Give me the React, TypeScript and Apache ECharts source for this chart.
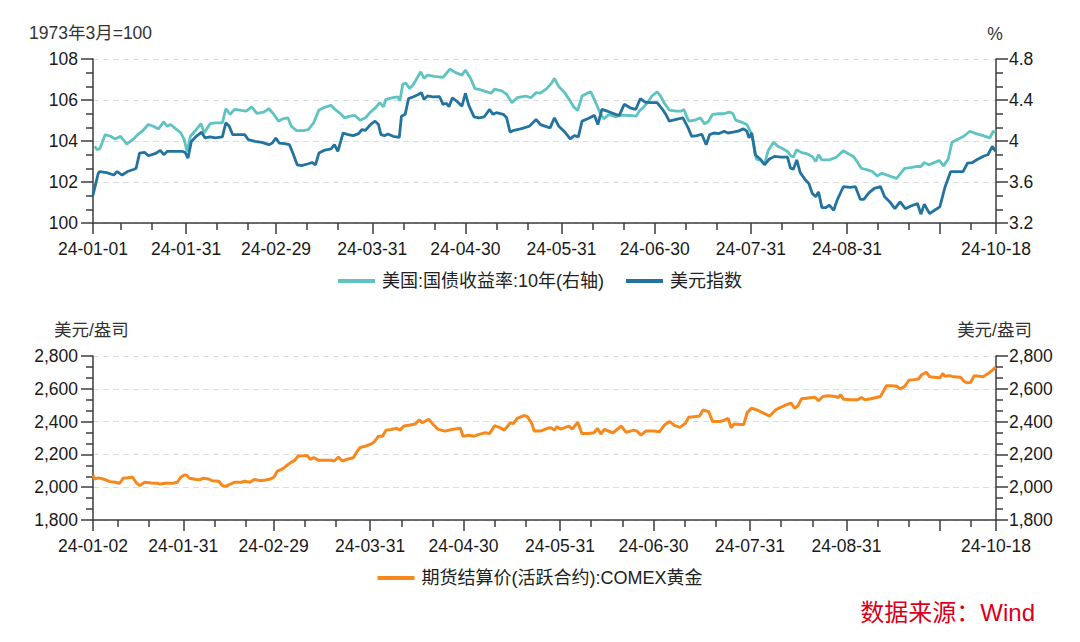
import { useEffect, useRef } from "react";
import * as echarts from "echarts";

const FONT = '"Liberation Sans", "Noto Sans CJK SC", sans-serif';

// x values are day offsets from 2024-01-01
const topLabelDays = [0, 30, 59, 90, 120, 151, 181, 212, 243, 291];
const bottomLabelDays = [1, 30, 59, 90, 120, 151, 181, 212, 243, 291];
const topMajorTickDays = [0, 30, 59, 90, 120, 151, 181, 212, 243, 273, 291];
const bottomMajorTickDays = [1, 30, 59, 90, 120, 151, 181, 212, 243, 273, 291];
const minorTickDays = [9, 19, 40, 50, 69, 79, 100, 110, 130, 140, 161, 171, 191, 201, 222, 232, 253, 263, 283];

const yieldName = "美国:国债收益率:10年(右轴)";
const dxyName = "美元指数";
const goldName = "期货结算价(活跃合约):COMEX黄金";

const dxyData = [
  [0, 101.36], [1.7, 102.43], [2.2, 102.51], [4.4, 102.46], [6.7, 102.34], [7.8, 102.51], [9.4, 102.34], [11.1, 102.51], [13.3, 102.62], [13.9, 102.67],
  [15, 103.41], [16.7, 103.44], [17.8, 103.28], [20, 103.38], [21.7, 103.54], [22.8, 103.33], [23.9, 103.49], [25.6, 103.49], [28.9, 103.49], [29.7, 103.44],
  [30.6, 103.16], [31.7, 103.98], [33.3, 104.23], [35, 104.43], [36.1, 104.15], [37.8, 104.2], [39.4, 104.15], [41.7, 104.2], [42.8, 104.89], [43.9, 104.72],
  [45, 104.31], [47.2, 104.31], [48.9, 104.31], [50, 104.07], [52.2, 103.98], [54.4, 103.93], [56.7, 103.82], [57.8, 103.9], [58.9, 104.15], [60, 103.9],
  [61.7, 103.87], [63.3, 103.82], [64.4, 103.41], [65.8, 102.84], [67.2, 102.8], [69.4, 102.89], [70.6, 102.95], [71.7, 102.84], [72.8, 103.41], [74.4, 103.54],
  [76.7, 103.61], [77.8, 103.82], [78.9, 103.49], [80.6, 104.39], [82.2, 104.31], [83.9, 104.26], [85.6, 104.36], [86.7, 104.56], [87.8, 104.52], [89.4, 104.8],
  [90.9, 104.97], [92, 104.8], [92.8, 104.31], [93.9, 104.26], [95, 104.34], [96.7, 104.23], [98.7, 104.18], [99.4, 105.21], [100.6, 105.3], [101.7, 106.07],
  [103.3, 106.16], [105, 106.28], [105.8, 106.36], [106.7, 106.03], [107.8, 106.2], [109.4, 106.15], [111.7, 106.16], [112.8, 105.79], [113.9, 105.84], [114.7, 105.67],
  [115.8, 106.1], [117.2, 105.95], [118.9, 105.7], [120, 106.33], [121.1, 105.74], [122.8, 105.18], [124.4, 105.13], [126.1, 105.18], [127.8, 105.54], [128.9, 105.3],
  [130, 105.38], [132.2, 105.3], [133.3, 105.13], [134.4, 104.43], [135.6, 104.52], [137.8, 104.59], [140.6, 104.72], [142.8, 105.05], [144.2, 104.8],
  [147.3, 104.64], [148.7, 105.13], [150.1, 104.72], [151.8, 104.48], [153.8, 104.1], [155.1, 104.26], [156.4, 104.2], [157.6, 104.97], [159.6, 105.1], [161.6, 105.25],
  [162.7, 104.8], [164, 105.54], [166.2, 105.43], [168.4, 105.3], [169.6, 105.25], [171.2, 105.79], [173.1, 105.62], [174.9, 105.54], [176.4, 106.07], [177.9, 105.9],
  [179.6, 105.87], [181.8, 105.87], [183.4, 105.57], [184.6, 105.3], [185.7, 104.97], [187.9, 105.05], [190.1, 105.13], [191.8, 104.64], [192.9, 104.23], [194.6, 104.26],
  [196.2, 104.33], [197.6, 103.82], [198.7, 104.31], [200.1, 104.39], [201.8, 104.36], [203.4, 104.48], [204.6, 104.39], [206.2, 104.43], [207.9, 104.48], [209.6, 104.59],
  [210.7, 104.48], [211.4, 104.15], [212.3, 104.39], [213.4, 103.33], [215.1, 103.11], [216.4, 102.84], [217.9, 103.11], [219.6, 103.25], [221.8, 103.21], [223.8, 103.21],
  [224.8, 102.67], [225.7, 102.62], [226.8, 103.08], [227.9, 102.46], [229.6, 102.1], [230.7, 101.93], [231.8, 101.44], [232.9, 101.28], [233.8, 101.52], [234.9, 100.75],
  [236.2, 100.75], [237.3, 100.87], [238.7, 100.62], [239.8, 101.11], [241.8, 101.77], [244, 101.74], [245.7, 101.77], [247.3, 101.15], [248.4, 101.15], [250.1, 101.48],
  [251.8, 101.69], [253.8, 101.77], [255.1, 101.28], [256.8, 101.03], [258.4, 100.7], [260.1, 101.03], [261.8, 100.7], [263.4, 100.82], [265.7, 100.95], [266.8, 100.43],
  [267.9, 100.92], [269.6, 100.46], [271.2, 100.62], [272.9, 100.79], [274.6, 101.77], [276.4, 102.51], [278.4, 102.51], [280.4, 102.51], [281.8, 102.92], [283.4, 102.95],
  [285.1, 103.11], [287.3, 103.28], [288.4, 103.33], [289.8, 103.74], [290.9, 103.49],
];

const yieldData = [
  [0.6, 3.948], [1.3, 3.915], [2.2, 3.925], [3.9, 4.062], [5.6, 4.046], [7.2, 4.02], [8.9, 4.046], [10.9, 3.97], [12.8, 4.013], [14.4, 4.062],
  [16.1, 4.102], [17.8, 4.161], [19.4, 4.144], [21.1, 4.118], [22.8, 4.187], [23.9, 4.144], [25, 4.161], [26.7, 4.118], [28.3, 4.079], [29.4, 4.013],
  [30.3, 3.898], [31.4, 4.046], [32.8, 4.095], [34.8, 4.17], [35.8, 4.079], [37.8, 4.17], [39.4, 4.177], [41.7, 4.177], [42.8, 4.315], [44.2, 4.259],
  [45.6, 4.308], [47.8, 4.298], [49.4, 4.292], [51.1, 4.334], [52.8, 4.269], [55, 4.282], [56.7, 4.315], [58.3, 4.259], [59.8, 4.193], [61.1, 4.216],
  [62.8, 4.226], [63.9, 4.144], [65.6, 4.102], [67.8, 4.102], [69.4, 4.111], [71.1, 4.177], [72.8, 4.302], [74.4, 4.325], [76.7, 4.348], [78, 4.308],
  [79.4, 4.275], [81.1, 4.226], [82.8, 4.243], [84.4, 4.249], [86.1, 4.203], [87.8, 4.226], [89.4, 4.282], [91.1, 4.325], [92.4, 4.374], [93.6, 4.334],
  [94.4, 4.407], [96.7, 4.423], [98.3, 4.43], [98.9, 4.39], [99.8, 4.554], [100.9, 4.564], [102, 4.511], [103.3, 4.554], [105.6, 4.675], [106.7, 4.61],
  [107.8, 4.643], [110, 4.63], [112.8, 4.62], [115, 4.702], [116.7, 4.669], [118.9, 4.643], [120, 4.692], [121.7, 4.61], [123.1, 4.511], [125, 4.498],
  [126.7, 4.482], [128.3, 4.466], [129.4, 4.505], [131.7, 4.489], [133.3, 4.456], [135, 4.374], [136.7, 4.423], [139.4, 4.439], [141.1, 4.423], [142.8, 4.472],
  [144.2, 4.466], [146.2, 4.511], [147.9, 4.57], [148.7, 4.61], [150.1, 4.531], [152, 4.472], [153.4, 4.407], [155.1, 4.325], [156.2, 4.298], [157.6, 4.439],
  [159, 4.462], [160.4, 4.479], [161.8, 4.39], [163.4, 4.275], [164.6, 4.216], [166.2, 4.259], [168.4, 4.236], [170.1, 4.252], [172.9, 4.249], [175.1, 4.243],
  [176, 4.292], [177.3, 4.325], [178.7, 4.374], [180.1, 4.439], [181.8, 4.479], [182.9, 4.439], [184, 4.374], [185.7, 4.302], [187.9, 4.292], [189.6, 4.292],
  [190.4, 4.308], [192, 4.193], [194, 4.203], [195.7, 4.226], [197.1, 4.167], [198.4, 4.193], [199.6, 4.259], [201.8, 4.266], [203.4, 4.266], [204.9, 4.282],
  [206.2, 4.269], [207.1, 4.203], [209, 4.184], [210.7, 4.161], [212, 4.085], [212.9, 3.98], [213.8, 3.823], [215.1, 3.81], [216.4, 3.777], [217.6, 3.908],
  [219.3, 3.987], [220.7, 3.948], [222.3, 3.925], [223.8, 3.898], [224.9, 3.856], [225.7, 3.843], [226.8, 3.915], [228.2, 3.889], [230.1, 3.875], [231.8, 3.849],
  [232.9, 3.8], [233.8, 3.866], [234.9, 3.816], [237.3, 3.816], [239.6, 3.843], [241.8, 3.905], [243.4, 3.875], [245.1, 3.849], [246.2, 3.8], [247.6, 3.734],
  [249.6, 3.718], [251.2, 3.702], [252.7, 3.659], [254.2, 3.685], [255.7, 3.669], [257.3, 3.652], [259, 3.636], [260.1, 3.679], [261.6, 3.734], [263.4, 3.741],
  [265.1, 3.751], [266.8, 3.751], [267.9, 3.79], [269.3, 3.767], [270.7, 3.784], [272.7, 3.81], [274.1, 3.757], [275.6, 3.823], [276.8, 3.987], [278.4, 4.013],
  [280.6, 4.046], [282.6, 4.095], [284.6, 4.072], [286.8, 4.052], [289, 4.03], [290.1, 4.095], [290.9, 4.085],
];

const goldData = [
  [1, 2071], [1.6, 2050], [2.7, 2057], [4.3, 2050], [6.5, 2034], [8.2, 2030], [9.6, 2024], [10.7, 2055], [12.1, 2057], [13.7, 2061],
  [14.8, 2030], [16, 2010], [17.6, 2030], [19.8, 2026], [21.5, 2024], [22.6, 2020], [24.3, 2024], [26.5, 2024], [28.1, 2030], [29.2, 2061],
  [30.3, 2075], [31.2, 2071], [32, 2055], [34.2, 2047], [35.3, 2045], [36.4, 2055], [38.1, 2050], [39.2, 2040], [41.4, 2036], [42.5, 2010],
  [43.6, 2005], [44.7, 2016], [46.4, 2030], [48.6, 2030], [49.7, 2036], [51.4, 2030], [52.8, 2047], [54.7, 2040], [56.4, 2044], [58, 2050],
  [59.1, 2061], [60.2, 2098], [61.9, 2112], [63, 2129], [64.7, 2153], [65.8, 2164], [66.9, 2190], [68.6, 2192], [69.7, 2194], [70.8, 2170],
  [71.9, 2180], [73.5, 2164], [75.8, 2164], [77.4, 2164], [78.5, 2160], [79.8, 2184], [81.1, 2160], [82.9, 2172], [84.6, 2180], [85.7, 2215],
  [86.8, 2242], [88.5, 2250], [90.1, 2262], [91.3, 2276], [92.7, 2311], [94, 2311], [95.1, 2348], [96.8, 2352], [98.5, 2359], [99.6, 2348],
  [100.9, 2373], [102.9, 2379], [104.5, 2385], [105.7, 2410], [106.8, 2393], [108.8, 2414], [110.4, 2379], [111.7, 2354], [114, 2342], [116.2, 2352],
  [119, 2359], [119.8, 2311], [121.7, 2317], [123.4, 2311], [125, 2322], [127, 2332], [128.4, 2328], [130, 2375], [131.7, 2363], [133.1, 2348],
  [135, 2393], [136.1, 2389], [137.2, 2420], [139.4, 2437], [140.5, 2430], [141.9, 2389], [142.7, 2342], [144.7, 2342], [146.9, 2359], [148.1, 2363],
  [149.2, 2348], [150, 2369], [151.1, 2354], [152.5, 2363], [153.8, 2373], [154.9, 2354], [156.7, 2396], [158, 2328], [160.2, 2328], [161.9, 2332],
  [163, 2359], [164.1, 2324], [165.2, 2352], [168, 2332], [170.7, 2373], [172.2, 2334], [174.6, 2348], [175.7, 2342], [177, 2317], [178.5, 2342],
  [181.2, 2342], [182.9, 2338], [184.5, 2379], [186.2, 2400], [187.9, 2375], [189.5, 2365], [191.2, 2389], [192.3, 2426], [193.9, 2430], [195.8, 2434],
  [196.9, 2471], [198.7, 2461], [200, 2400], [202.2, 2400], [203.9, 2410], [205, 2420], [205.9, 2363], [206.9, 2385], [208.9, 2383], [210, 2383],
  [211.1, 2455], [212.5, 2482], [214.2, 2471], [216, 2455], [218.3, 2434], [220.2, 2471], [222.4, 2492], [224.1, 2506], [225.2, 2512], [226.3, 2482],
  [227.4, 2496], [228.5, 2539], [230.1, 2543], [231.8, 2547], [232.9, 2549], [234, 2527], [235.4, 2553], [237.1, 2558], [239.3, 2553], [240.4, 2547],
  [241.1, 2564], [242, 2537], [244.2, 2533], [246.5, 2533], [247.8, 2547], [248.9, 2533], [250.9, 2539], [252.5, 2547], [253.9, 2553], [255.8, 2619],
  [257.5, 2619], [259.2, 2615], [260.3, 2599], [261.7, 2615], [263, 2652], [264.7, 2656], [266.1, 2660], [267.2, 2687], [268.6, 2701], [269.7, 2673],
  [271.9, 2669], [273, 2667], [273.9, 2693], [274.6, 2676], [276.1, 2680], [277.4, 2673], [279.6, 2671], [280.7, 2646], [281.8, 2636], [282.9, 2640],
  [284, 2680], [285.7, 2676], [286.8, 2673], [288.5, 2693], [289.8, 2712], [290.9, 2732],
];

const AXIS_COLOR = "#3d3d3d";
const LABEL_COLOR = "#1a1a1a";
const GRID_LEFT = 93;
const GRID_RIGHT = 84;

function dayLabel(v: number): string {
  const d = new Date(2024, 0, 1 + Math.round(v));
  const mm = String(d.getMonth() + 1).padStart(2, "0");
  const dd = String(d.getDate()).padStart(2, "0");
  return `24-${mm}-${dd}`;
}

function xAxes(gridIndex: number, min: number, labels: number[], majors: number[]) {
  return [
    {
      type: "value",
      gridIndex,
      min,
      max: 291,
      position: "bottom",
      axisLine: { show: true, onZero: false, lineStyle: { color: AXIS_COLOR, width: 1.5 } },
      axisTick: { show: true, length: 11, customValues: majors, lineStyle: { color: AXIS_COLOR, width: 1.5 } },
      axisLabel: {
        show: true,
        customValues: labels,
        formatter: (v: number) => dayLabel(v),
        color: LABEL_COLOR,
        fontSize: 17.5,
        fontFamily: FONT,
        margin: 17,
        hideOverlap: false,
      },
      splitLine: { show: false },
    },
    {
      type: "value",
      gridIndex,
      min,
      max: 291,
      position: "bottom",
      axisLine: { show: false, onZero: false },
      axisTick: { show: true, length: 7, customValues: minorTickDays, lineStyle: { color: AXIS_COLOR, width: 1.5 } },
      axisLabel: { show: false },
      splitLine: { show: false },
    },
  ];
}

function yAxis(gridIndex: number, position: string, min: number, max: number, interval: number, split: boolean, fmt: (v: number) => string) {
  return {
    type: "value",
    gridIndex,
    position,
    min,
    max,
    interval,
    axisLine: { show: true, onZero: false, lineStyle: { color: AXIS_COLOR, width: 1.5 } },
    axisTick: { show: true, length: 12, lineStyle: { color: AXIS_COLOR, width: 1.5 } },
    minorTick: { show: true, splitNumber: 3, length: 7, lineStyle: { color: AXIS_COLOR, width: 1.5 } },
    axisLabel: {
      color: LABEL_COLOR,
      fontSize: 17.5,
      fontFamily: FONT,
      margin: position === "left" ? 15 : 13,
      formatter: fmt,
    },
    splitLine: { show: split, lineStyle: { color: "#dcdcdc", type: [6, 4], width: 1.2 } },
    minorSplitLine: { show: false },
  };
}

const fmtPlain = (v: number) => String(Math.round(v * 10) / 10);
const fmtComma = (v: number) => Math.round(v).toLocaleString("en-US");

const titleStyle = { fontSize: 17.5, fontFamily: FONT, fill: "#333" };

export default function App() {
  const ref = useRef<HTMLDivElement>(null);
  useEffect(() => {
    const chart = echarts.init(ref.current!, null, { renderer: "svg" });
    const option: any = {
      animation: false,
      backgroundColor: "#ffffff",
      grid: [
        { left: GRID_LEFT, right: GRID_RIGHT, top: 59, height: 164, containLabel: false, outerBoundsMode: "none" },
        { left: GRID_LEFT, right: GRID_RIGHT, top: 356, height: 164, containLabel: false, outerBoundsMode: "none" },
      ],
      xAxis: [
        ...xAxes(0, 0, topLabelDays, topMajorTickDays),
        ...xAxes(1, 1, bottomLabelDays, bottomMajorTickDays),
      ],
      yAxis: [
        yAxis(0, "left", 100, 108, 2, true, fmtPlain),
        yAxis(0, "right", 3.2, 4.8, 0.4, false, fmtPlain),
        yAxis(1, "left", 1800, 2800, 200, true, fmtComma),
        yAxis(1, "right", 1800, 2800, 200, false, fmtComma),
      ],
      legend: [
        {
          data: [yieldName, dxyName],
          left: "center",
          top: 272,
          padding: 0,
          icon: "rect",
          itemWidth: 37,
          itemHeight: 4,
          itemGap: 22,
          textStyle: { fontSize: 18, fontFamily: FONT, color: "#222", padding: [0, 0, 0, 2] },
        },
        {
          data: [goldName],
          left: "center",
          top: 569,
          padding: 0,
          icon: "rect",
          itemWidth: 37,
          itemHeight: 4,
          textStyle: { fontSize: 18, fontFamily: FONT, color: "#222", padding: [0, 0, 0, 2] },
        },
      ],
      series: [
        {
          name: yieldName,
          type: "line",
          xAxisIndex: 0,
          yAxisIndex: 1,
          data: yieldData,
          showSymbol: false,
          symbol: "none",
          lineStyle: { color: "#5ec3c1", width: 2.8 },
          itemStyle: { color: "#5ec3c1" },
        },
        {
          name: dxyName,
          type: "line",
          xAxisIndex: 0,
          yAxisIndex: 0,
          data: dxyData,
          showSymbol: false,
          symbol: "none",
          lineStyle: { color: "#22739f", width: 2.8 },
          itemStyle: { color: "#22739f" },
        },
        {
          name: goldName,
          type: "line",
          xAxisIndex: 2,
          yAxisIndex: 2,
          data: goldData,
          showSymbol: false,
          symbol: "none",
          lineStyle: { color: "#f7891c", width: 3 },
          itemStyle: { color: "#f7891c" },
        },
      ],
      graphic: [
        { type: "text", x: 29, y: 33, style: { ...titleStyle, text: "1973年3月=100", verticalAlign: "middle", align: "left" } },
        { type: "text", x: 995, y: 34, style: { ...titleStyle, text: "%", verticalAlign: "middle", align: "center" } },
        { type: "text", x: 54, y: 330, style: { ...titleStyle, text: "美元/盎司", verticalAlign: "middle", align: "left" } },
        { type: "text", x: 1032, y: 330, style: { ...titleStyle, text: "美元/盎司", verticalAlign: "middle", align: "right" } },
        {
          type: "text",
          x: 1035,
          y: 612,
          style: { text: "数据来源：Wind", fontSize: 24, fontFamily: FONT, fill: "#d9001b", verticalAlign: "middle", align: "right" },
        },
      ],
    };
    chart.setOption(option);
    return () => chart.dispose();
  }, []);
  return (
    <div
      ref={ref}
      style={{ position: "fixed", left: 0, top: 0, width: 1080, height: 642, background: "#fff" }}
    />
  );
}
